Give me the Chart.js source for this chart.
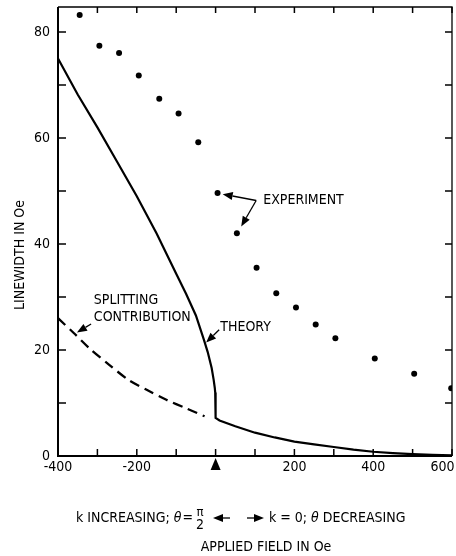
<!DOCTYPE html>
<html>
<head>
<meta charset="utf-8">
<script src="https://cdn.jsdelivr.net/npm/chart.js@4.4.1/dist/chart.umd.min.js"></script>
<style>
  html, body { margin: 0; padding: 0; background: #fff; }
  #wrap { width: 456px; height: 556px; position: relative; }
</style>
</head>
<body>
<div id="wrap"><canvas id="chart"></canvas></div>
<script>
// measured points (field in Oe, linewidth in Oe)
const expField = [-345, -295, -245, -195, -143, -94, -44, 5, 54, 104, 154, 204, 254, 304, 404, 504, 598];
const expWidth = [83.2, 77.4, 76.0, 71.8, 67.4, 64.6, 59.2, 49.6, 42.0, 35.5, 30.7, 28.0, 24.8, 22.2, 18.4, 15.5, 12.8];

// theory curve
const theoryField = [-400, -350, -300, -250, -200, -150, -100, -75, -50, -30, -20, -10, -5, -2, -1, 0, 10, 50, 100, 150, 200, 250, 300, 350, 400, 450, 500, 550, 600];
const theoryWidth = [75, 68.2, 62, 55.5, 49, 42, 34.4, 30.6, 26.5, 22, 19.6, 16.6, 14.4, 12.8, 12, 7.2, 6.7, 5.6, 4.4, 3.5, 2.7, 2.2, 1.7, 1.2, 0.8, 0.55, 0.35, 0.2, 0.1];

// splitting contribution (dashed)
const splitField = [-400, -360, -320, -270, -220, -175, -125, -75, -28];
const splitWidth = [26.0, 23.2, 20.3, 17.2, 14.3, 12.5, 10.6, 9.0, 7.5];

const xTicks = [-400, -200, 200, 400, 600];
const yTicks = [0, 20, 40, 60, 80];

const FONT = '"Liberation Sans Narrow", "DejaVu Sans Condensed", sans-serif';

function pts(xs, ys) {
    return xs.map((v, i) => ({ x: v, y: ys[i] }));
}

function arrow(ctx, x1, y1, x2, y2) {
    const ang = Math.atan2(y2 - y1, x2 - x1);
    const len = 10, half = 4;
    const bx = x2 - len * Math.cos(ang), by = y2 - len * Math.sin(ang);
    ctx.beginPath();
    ctx.moveTo(x1, y1);
    ctx.lineTo(bx, by);
    ctx.stroke();
    ctx.beginPath();
    ctx.moveTo(x2, y2);
    ctx.lineTo(bx + half * Math.sin(ang), by - half * Math.cos(ang));
    ctx.lineTo(bx - half * Math.sin(ang), by + half * Math.cos(ang));
    ctx.closePath();
    ctx.fill();
}

const frame = {
    id: 'frame',
    afterDraw(chart) {
        const ctx = chart.ctx, a = chart.chartArea;
        const xs = chart.scales.x, ys = chart.scales.y;
        const px = v => xs.getPixelForValue(v), py = v => ys.getPixelForValue(v);
        ctx.save();
        ctx.strokeStyle = '#000';
        ctx.fillStyle = '#000';

        // box
        ctx.lineWidth = 2;
        ctx.beginPath();
        ctx.moveTo(a.left, a.top); ctx.lineTo(a.left, a.bottom); ctx.lineTo(a.right, a.bottom);
        ctx.stroke();
        ctx.lineWidth = 1.3;
        ctx.beginPath();
        ctx.moveTo(a.left, a.top); ctx.lineTo(a.right, a.top); ctx.lineTo(a.right, a.bottom);
        ctx.stroke();

        // inward ticks
        ctx.lineWidth = 1.5;
        xs.ticks.forEach(t => {
            if (t.value % 100 !== 0) return;
            const x = px(t.value);
            ctx.beginPath();
            ctx.moveTo(x, a.bottom); ctx.lineTo(x, a.bottom - 7);
            ctx.moveTo(x, a.top); ctx.lineTo(x, a.top + 6);
            ctx.stroke();
        });
        ys.ticks.forEach(t => {
            if (t.value % 10 !== 0) return;
            const y = py(t.value);
            ctx.beginPath();
            ctx.moveTo(a.left, y); ctx.lineTo(a.left + 8, y);
            ctx.moveTo(a.right, y); ctx.lineTo(a.right - 7, y);
            ctx.stroke();
        });

        // marker under zero field
        const x0 = px(0);
        ctx.beginPath();
        ctx.moveTo(x0, a.bottom + 2);
        ctx.lineTo(x0 + 5, a.bottom + 14);
        ctx.lineTo(x0 - 5, a.bottom + 14);
        ctx.closePath();
        ctx.fill();

        // annotations
        ctx.font = '14px ' + FONT;
        ctx.textBaseline = 'middle';
        ctx.textAlign = 'left';
        ctx.fillText('EXPERIMENT', px(121), py(48.3));
        ctx.fillText('SPLITTING', px(-309), py(29.4));
        ctx.fillText('CONTRIBUTION', px(-309), py(26.2));
        ctx.fillText('THEORY', px(12), py(24.2));

        ctx.lineWidth = 1.3;
        arrow(ctx, px(103), py(48.2), px(18), py(49.4));
        arrow(ctx, px(103), py(48.2), px(65), py(43.3));
        arrow(ctx, px(-316), py(24.9), px(-352), py(23.3));
        arrow(ctx, px(9), py(23.8), px(-24), py(21.4));

        // bottom legend line
        const ly = 518;
        ctx.textAlign = 'right';
        ctx.fillText('=', 193, ly);
        const wEq = ctx.measureText('=').width;
        ctx.font = 'italic 14px ' + FONT;
        ctx.fillText('\u03b8', 193 - wEq - 1, ly);
        const wTh = ctx.measureText('\u03b8').width;
        ctx.font = '14px ' + FONT;
        ctx.fillText('k INCREASING; ', 193 - wEq - wTh - 1, ly);
        ctx.textAlign = 'center';
        ctx.font = '13px ' + FONT;
        ctx.fillText('\u03c0', 200, 513);
        ctx.font = '14px ' + FONT;
        ctx.fillText('2', 200, 525);
        ctx.lineWidth = 1.3;
        arrow(ctx, 230, ly, 213, ly);
        arrow(ctx, 247, ly, 264, ly);
        ctx.textAlign = 'left';
        let cx = 269;
        ctx.fillText('k = 0; ', cx, ly);
        cx += ctx.measureText('k = 0; ').width;
        ctx.font = 'italic 14px ' + FONT;
        ctx.fillText('\u03b8', cx, ly);
        cx += ctx.measureText('\u03b8 ').width;
        ctx.font = '14px ' + FONT;
        ctx.fillText('DECREASING', cx, ly);

        ctx.textAlign = 'center';
        ctx.fillText('APPLIED FIELD IN Oe', 266, 547);

        // y axis title
        ctx.translate(20, 255);
        ctx.rotate(-Math.PI / 2);
        ctx.fillText('LINEWIDTH IN Oe', 0, 0);
        ctx.restore();
    }
};

const chart = new Chart(document.getElementById('chart'), {
    type: 'scatter',
    data: {
        datasets: [{
            label: 'Theory',
            data: pts(theoryField, theoryWidth),
            showLine: true,
            borderColor: '#000',
            borderWidth: 2.2,
            pointRadius: 0,
            tension: 0
        }, {
            label: 'Splitting contribution',
            data: pts(splitField, splitWidth),
            showLine: true,
            borderColor: '#000',
            borderWidth: 2.3,
            borderDash: [10, 6],
            pointRadius: 0,
            tension: 0.3
        }, {
            label: 'Experiment',
            data: pts(expField, expWidth),
            showLine: false,
            pointRadius: 3,
            pointBackgroundColor: '#000',
            pointBorderWidth: 0
        }]
    },
    options: {
        responsive: true,
        maintainAspectRatio: false,
        animation: false,
        layout: { padding: { top: 7, right: 4, left: 0, bottom: 0 } },
        plugins: { legend: { display: false }, tooltip: { enabled: false } },
        scales: {
            x: {
                type: 'linear',
                min: -400,
                max: 600,
                grid: { display: false, drawTicks: false },
                border: { display: false },
                ticks: {
                    stepSize: 100,
                    autoSkip: false,
                    maxRotation: 0,
                    padding: 3,
                    color: '#000',
                    font: { family: FONT, size: 14 },
                    // last label pulled in so it stays inside the canvas
                    callback: v => xTicks.includes(v) ? (v === 600 ? '600\u2003\u2002' : String(v)) : ''
                },
                afterFit: s => { s.height = 100; s.paddingLeft = 0; s.paddingRight = 0; }
            },
            y: {
                type: 'linear',
                min: 0,
                max: 84.7,
                grid: { display: false, drawTicks: false },
                border: { display: false },
                ticks: {
                    stepSize: 10,
                    includeBounds: false,
                    padding: 8,
                    color: '#000',
                    font: { family: FONT, size: 14 },
                    callback: v => yTicks.includes(v) ? String(v) : ''
                },
                afterFit: s => { s.width = 58; s.paddingTop = 0; s.paddingBottom = 0; }
            }
        }
    },
    plugins: [frame]
});
</script>
</body>
</html>
